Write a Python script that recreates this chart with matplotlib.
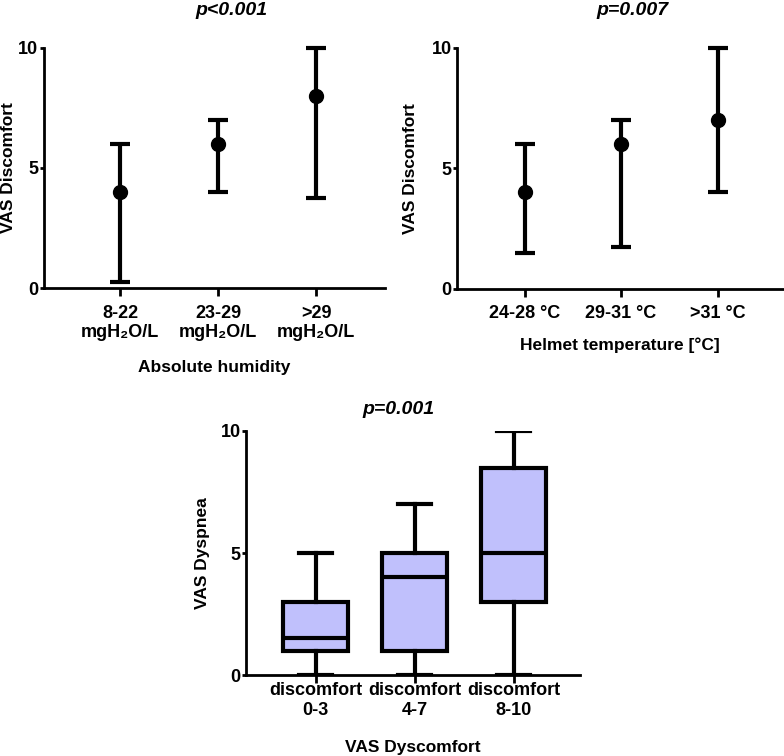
import matplotlib
matplotlib.use("Agg")
import matplotlib.pyplot as plt

plt.rcParams['font.family'] = ['Liberation Sans', 'DejaVu Sans']
plt.rcParams['font.weight'] = 'bold'

# Panel 1 - humedad absoluta
hum_cats = ["8-22\nmgH₂O/L", "23-29\nmgH₂O/L", ">29\nmgH₂O/L"]
hum_med = [4, 6, 8]
hum_low = [0.25, 4, 3.75]
hum_high = [6, 7, 10]

# Panel 2 - temperatura del casco
temp_cats = ["24-28 °C", "29-31 °C", ">31 °C"]
temp_med = [4, 6, 7]
temp_low = [1.5, 1.75, 4]
temp_high = [6, 7, 10]

# Panel 3 - boxplot disnea
box_cats = ["discomfort\n0-3", "discomfort\n4-7", "discomfort\n8-10"]
box_min = [0, 0, 0]
box_q1 = [1, 1, 3]
box_med = [1.5, 4, 5]
box_q3 = [3, 5, 8.5]
box_max = [5, 7, 10]

FS = 13
FL = 12.5

fig = plt.figure(figsize=(7.84, 7.56), dpi=100)
ax1 = fig.add_axes([0.056, 0.619, 0.435, 0.318])
ax2 = fig.add_axes([0.583, 0.618, 0.416, 0.319])
ax3 = fig.add_axes([0.314, 0.107, 0.426, 0.323])


def estilo(ax, pad_x=6):
    for s in ['top', 'right']:
        ax.spines[s].set_visible(False)
    for s in ['left', 'bottom']:
        ax.spines[s].set_linewidth(2)
    ax.tick_params(axis='y', width=2, length=3, labelsize=FS, pad=1)
    ax.tick_params(axis='x', width=2, length=6, labelsize=FS, pad=pad_x)
    ax.set_ylim(0, 10)
    ax.set_yticks([0, 5, 10])
    for lab in ax.get_yticklabels():
        lab.set_fontweight('bold')


def etiquetas(ax, xlab, ylab, xpos, ypos):
    ax.set_xlabel(xlab, fontsize=FL, fontweight='bold', va='center')
    ax.xaxis.set_label_coords(0.5, xpos)
    ax.set_ylabel(ylab, fontsize=FL, fontweight='bold', va='top')
    ax.yaxis.set_label_coords(ypos, 0.5)


def puntos(ax, cats, med, low, high):
    x = list(range(len(cats)))
    err = [[m - l for m, l in zip(med, low)], [h - m for m, h in zip(med, high)]]
    ax.errorbar(x, med, yerr=err, fmt='o', color='black', ms=10,
                elinewidth=3, capsize=7, capthick=3, clip_on=False, zorder=3)
    ax.set_xticks(x)
    ax.set_xticklabels(cats, fontweight='bold', linespacing=1.15)
    estilo(ax)


puntos(ax1, hum_cats, hum_med, hum_low, hum_high)
ax1.set_xlim(-0.78, 2.7)
etiquetas(ax1, 'Absolute humidity', 'VAS Discomfort', -0.33, -0.127)

puntos(ax2, temp_cats, temp_med, temp_low, temp_high)
ax2.set_xlim(-0.7, 2.68)
etiquetas(ax2, 'Helmet temperature [°C]', 'VAS Discomfort', -0.235, -0.166)

stats = []
for i in range(len(box_cats)):
    stats.append({'whislo': box_min[i], 'q1': box_q1[i], 'med': box_med[i],
                  'q3': box_q3[i], 'whishi': box_max[i], 'fliers': []})
lw = 3
ax3.bxp(stats, positions=range(len(box_cats)), widths=0.66, patch_artist=True,
        boxprops=dict(facecolor='#c0c0fc', edgecolor='black', linewidth=lw),
        medianprops=dict(color='black', linewidth=lw),
        whiskerprops=dict(color='black', linewidth=lw),
        capprops=dict(color='black', linewidth=lw), capwidths=0.33)
ax3.set_xticks(range(len(box_cats)))
ax3.set_xticklabels(box_cats, fontweight='bold', linespacing=1.2)
estilo(ax3, pad_x=-1)
ax3.set_xlim(-0.7, 2.67)
etiquetas(ax3, 'VAS Dyscomfort', 'VAS Dyspnea', -0.296, -0.153)

fig.text(0.295, 0.986, 'p<0.001', ha='center', va='center', fontsize=14,
         fontweight='bold', style='italic')
fig.text(0.807, 0.986, 'p=0.007', ha='center', va='center', fontsize=14,
         fontweight='bold', style='italic')
fig.text(0.508, 0.458, 'p=0.001', ha='center', va='center', fontsize=14,
         fontweight='bold', style='italic')

fig.savefig('out.png', dpi=100)
